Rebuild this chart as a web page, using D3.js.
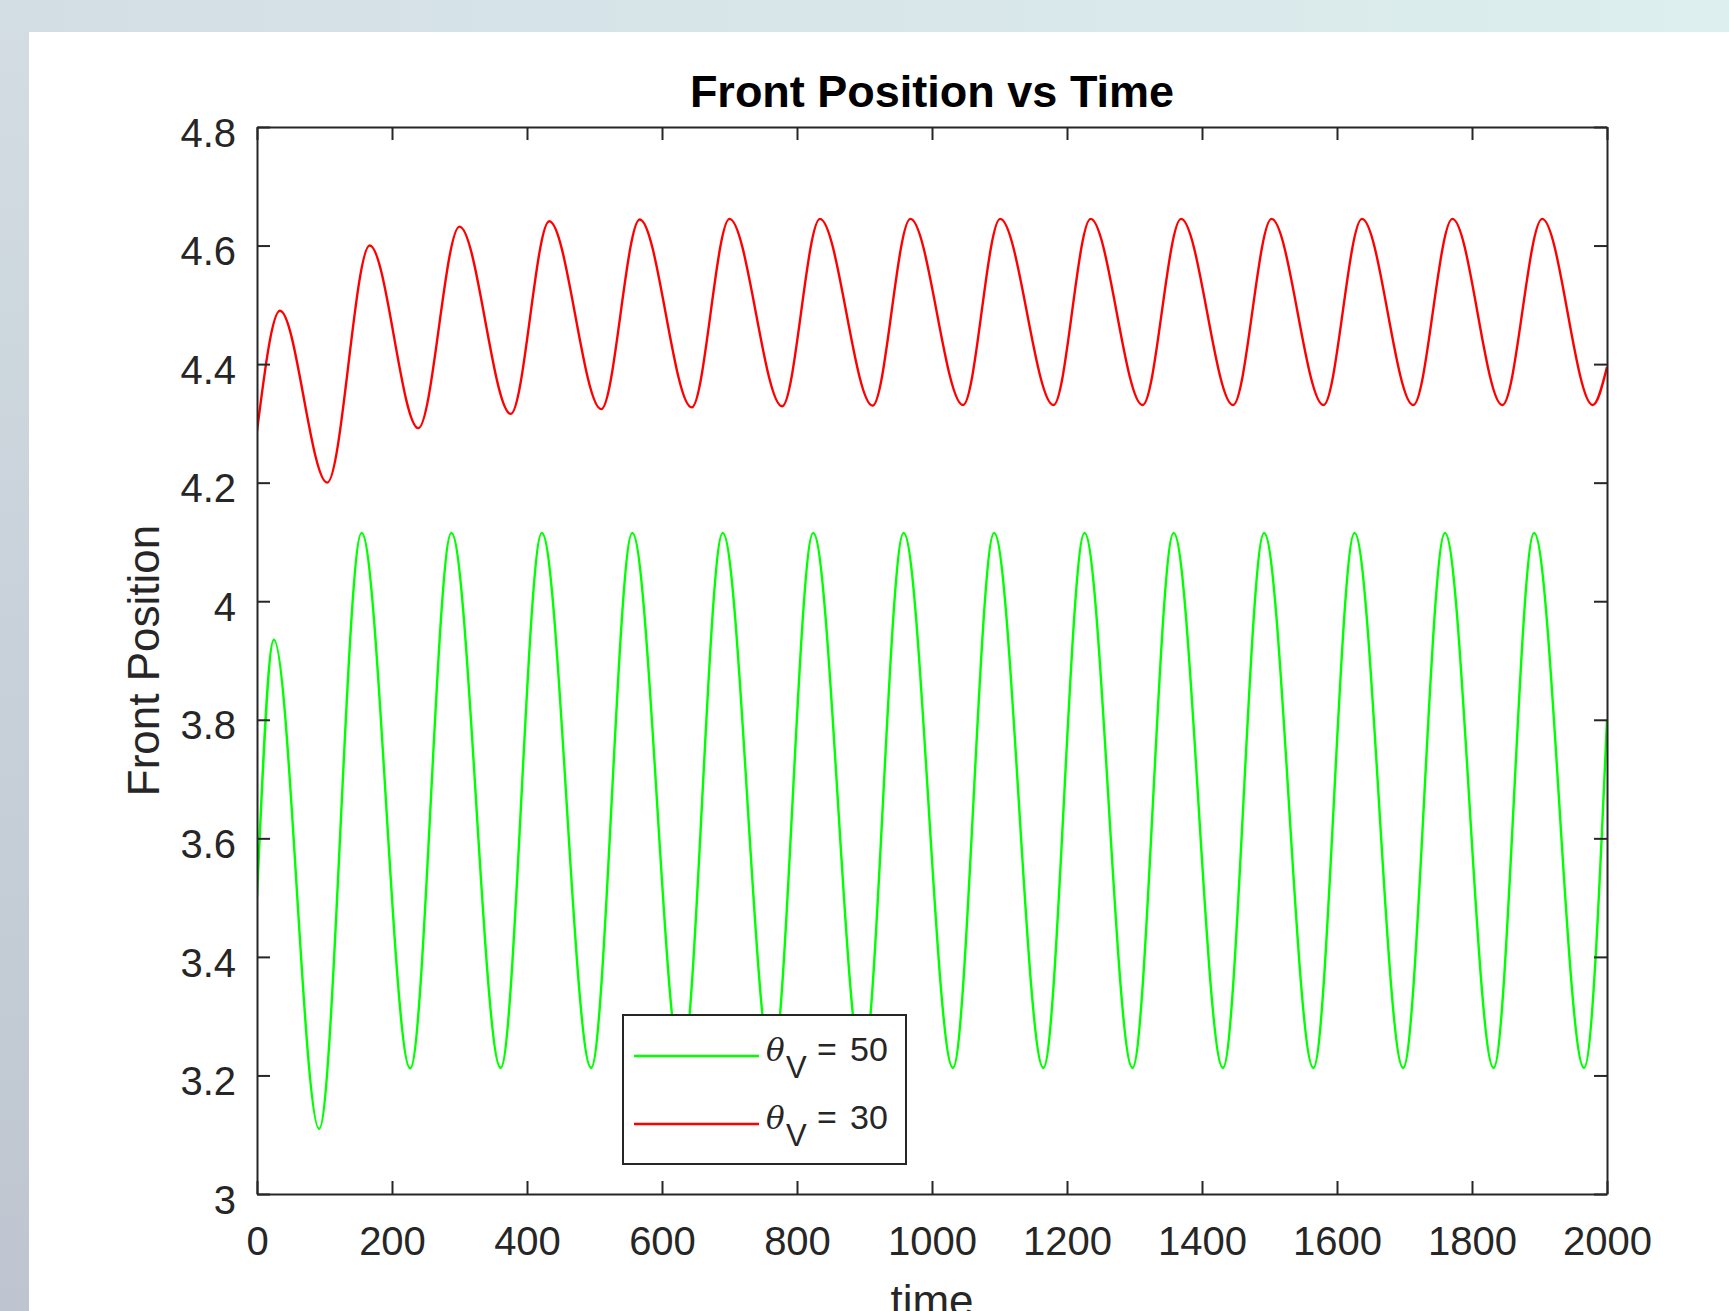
<!DOCTYPE html>
<html>
<head>
<meta charset="utf-8">
<script src="https://cdn.jsdelivr.net/npm/d3@7"></script>
<style>
  body { margin: 0; padding: 0; overflow: hidden; }
  svg { display: block; font-family: "Liberation Sans", Arial, Helvetica, sans-serif; }
</style>
</head>
<body>
<svg id="chart" width="1729" height="1311"></svg>
<script>
// values
var xTicks = [0, 200, 400, 600, 800, 1000, 1200, 1400, 1600, 1800, 2000];
var xTickLabels = ["0", "200", "400", "600", "800", "1000", "1200", "1400", "1600", "1800", "2000"];
var yTicks = [3, 3.2, 3.4, 3.6, 3.8, 4, 4.2, 4.4, 4.6, 4.8];
var yTickLabels = ["3", "3.2", "3.4", "3.6", "3.8", "4", "4.2", "4.4", "4.6", "4.8"];

// theta_V = 50 (green): start, peaks and troughs, end
var greenTime = [0, 25, 92, 155, 227, 288, 361, 422, 495, 556, 629, 690, 763, 824, 897, 958,
                 1031, 1092, 1165, 1226, 1297, 1358, 1431, 1492, 1565, 1626, 1698, 1760, 1832, 1892, 1966, 2000];
var greenPos = [3.50, 3.935, 3.11, 4.115, 3.212, 4.115, 3.213, 4.115, 3.213, 4.115, 3.213, 4.115, 3.213, 4.115, 3.213, 4.115,
                3.213, 4.115, 3.213, 4.115, 3.213, 4.115, 3.213, 4.115, 3.213, 4.115, 3.213, 4.115, 3.213, 4.115, 3.213, 3.80];

// theta_V = 30 (red)
var redTime = [0, 34, 104, 167, 239, 300, 376, 433, 510, 567, 644, 700, 778, 834, 912, 968,
               1046, 1101, 1180, 1235, 1312, 1369, 1446, 1503, 1580, 1637, 1713, 1771, 1845, 1904, 1979, 2000];
var redPos = [4.287, 4.49, 4.20, 4.60, 4.292, 4.632, 4.316, 4.641, 4.324, 4.644, 4.327, 4.645, 4.329, 4.645, 4.33, 4.645,
              4.331, 4.645, 4.331, 4.645, 4.331, 4.645, 4.331, 4.645, 4.331, 4.645, 4.331, 4.645, 4.331, 4.645, 4.331, 4.395];

var seriesNames = ["50", "30"];
var seriesColors = ["#00ff00", "#ff0000"];

var W = 1729, H = 1311;
var plotL = 257, plotR = 1607, plotT = 127, plotB = 1194;
var ink = "#262626";

var svg = d3.select("#chart");

// window backdrop around the figure
var defs = svg.append("defs");
var gTop = defs.append("linearGradient").attr("id", "topband").attr("x1", 0).attr("x2", 1).attr("y1", 0).attr("y2", 0);
gTop.append("stop").attr("offset", 0).attr("stop-color", "#d3dee4");
gTop.append("stop").attr("offset", 0.5).attr("stop-color", "#d8e6ea");
gTop.append("stop").attr("offset", 1).attr("stop-color", "#ddefee");
var gLeft = defs.append("linearGradient").attr("id", "leftband").attr("x1", 0).attr("x2", 0).attr("y1", 0).attr("y2", 1);
gLeft.append("stop").attr("offset", 0).attr("stop-color", "#d3dde3");
gLeft.append("stop").attr("offset", 0.5).attr("stop-color", "#c8d1d9");
gLeft.append("stop").attr("offset", 1).attr("stop-color", "#bec5d0");

svg.append("rect").attr("x", 0).attr("y", 0).attr("width", W).attr("height", H).attr("fill", "url(#leftband)");
svg.append("rect").attr("x", 0).attr("y", 0).attr("width", W).attr("height", 32).attr("fill", "url(#topband)");
svg.append("rect").attr("x", 29).attr("y", 32).attr("width", W - 29).attr("height", H - 32).attr("fill", "#ffffff");

var x = d3.scaleLinear().domain([0, 2000]).range([plotL, plotR]);
var y = d3.scaleLinear().domain([3, 4.8]).range([plotB, plotT]);

function styleAxis(g) {
  g.selectAll(".domain").attr("stroke", ink).attr("stroke-width", 2);
  g.selectAll(".tick line").attr("stroke", ink).attr("stroke-width", 2);
  g.selectAll("text").attr("fill", ink).style("font-size", "40px")
    .style("font-family", "'Liberation Sans', Arial, Helvetica, sans-serif");
}

// curves, clipped to the axes box
defs.append("clipPath").attr("id", "plotclip")
  .append("rect").attr("x", plotL).attr("y", plotT).attr("width", plotR - plotL).attr("height", plotB - plotT);

var line = d3.line()
  .x(function(d){ return x(d[0]); })
  .y(function(d){ return y(d[1]); })
  .curve(d3.curveMonotoneX);

var greenData = greenTime.map(function(t, i){ return [t, greenPos[i]]; });
var redData = redTime.map(function(t, i){ return [t, redPos[i]]; });

var plot = svg.append("g").attr("clip-path", "url(#plotclip)");
plot.append("path").datum(greenData).attr("d", line)
  .attr("fill", "none").attr("stroke", seriesColors[0]).attr("stroke-width", 2.4);
plot.append("path").datum(redData).attr("d", line)
  .attr("fill", "none").attr("stroke", seriesColors[1]).attr("stroke-width", 2.4);

// axes: ticks pointing inward, box on
var xAxis = svg.append("g").attr("transform", "translate(0," + plotB + ")")
  .call(d3.axisBottom(x).tickValues(xTicks).tickFormat(function(d, i){ return xTickLabels[i]; })
    .tickSizeInner(-13).tickSizeOuter(0).tickPadding(33));
styleAxis(xAxis);

var yAxis = svg.append("g").attr("transform", "translate(" + plotL + ",0)")
  .call(d3.axisLeft(y).tickValues(yTicks).tickFormat(function(d, i){ return yTickLabels[i]; })
    .tickSizeInner(-13).tickSizeOuter(0).tickPadding(21));
styleAxis(yAxis);
yAxis.selectAll("text").attr("dy", "0.48em");

var xTop = svg.append("g").attr("transform", "translate(0," + plotT + ")")
  .call(d3.axisTop(x).tickValues(xTicks).tickFormat("").tickSizeInner(-13).tickSizeOuter(0));
styleAxis(xTop);

var yRight = svg.append("g").attr("transform", "translate(" + plotR + ",0)")
  .call(d3.axisRight(y).tickValues(yTicks).tickFormat("").tickSizeInner(-13).tickSizeOuter(0));
styleAxis(yRight);

// title and axis labels
svg.append("text")
  .attr("x", (plotL + plotR) / 2).attr("y", 107)
  .attr("text-anchor", "middle")
  .style("font-size", "45px").style("font-weight", "bold").attr("fill", "#000")
  .text("Front Position vs Time");

svg.append("text")
  .attr("transform", "translate(159," + (plotT + plotB) / 2 + ") rotate(-90)")
  .attr("text-anchor", "middle")
  .style("font-size", "44px").attr("fill", ink)
  .text("Front Position");

svg.append("text")
  .attr("x", (plotL + plotR) / 2).attr("y", 1316)
  .attr("text-anchor", "middle")
  .style("font-size", "44px").attr("fill", ink)
  .text("time");

// legend
var legend = svg.append("g");
legend.append("rect")
  .attr("x", 623).attr("y", 1015).attr("width", 283).attr("height", 149)
  .attr("fill", "#fff").attr("stroke", ink).attr("stroke-width", 2);

seriesNames.forEach(function(name, i){
  var ly = 1056 + i * 68;
  legend.append("line")
    .attr("x1", 634).attr("x2", 759).attr("y1", ly).attr("y2", ly)
    .attr("stroke", seriesColors[i]).attr("stroke-width", 2.4);
  var t = legend.append("text").attr("y", ly + 5).attr("fill", ink).style("font-size", "34px");
  t.append("tspan").attr("x", 766).style("font-style", "italic").style("font-family", "'DejaVu Serif', serif")
    .style("font-size", "31px").text("θ");
  t.append("tspan").attr("x", 786).attr("dy", 17).style("font-size", "31px").text("V");
  t.append("tspan").attr("x", 817).attr("dy", -17).text("=");
  t.append("tspan").attr("x", 850).text(name);
});
</script>
</body>
</html>
